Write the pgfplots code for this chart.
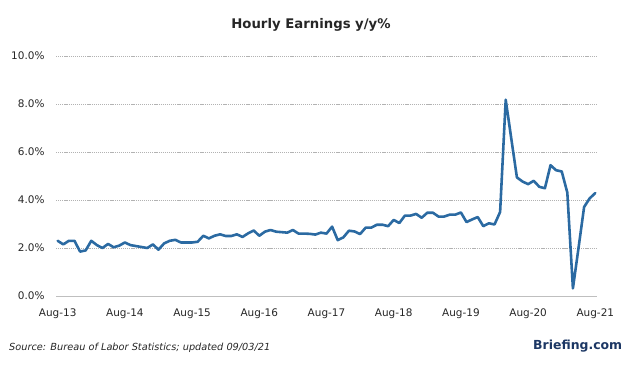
\documentclass[border=0pt]{standalone}
\usepackage{pgfplots}
\pgfplotsset{compat=1.18}
\usepackage{pgfplotstable}
\usepackage{fontspec}
\setmainfont{DejaVu Sans}
\definecolor{linecol}{RGB}{43,106,162}
\definecolor{brief}{RGB}{28,55,100}
\pgfplotstableread{
x y
0 2.30
1 2.15
2 2.30
3 2.30
4 1.85
5 1.90
6 2.30
7 2.12
8 2.00
9 2.17
10 2.03
11 2.10
12 2.23
13 2.12
14 2.08
15 2.04
16 2.00
17 2.15
18 1.93
19 2.19
20 2.30
21 2.34
22 2.23
23 2.23
24 2.23
25 2.26
26 2.51
27 2.40
28 2.51
29 2.57
30 2.50
31 2.50
32 2.57
33 2.46
34 2.61
35 2.73
36 2.51
37 2.68
38 2.75
39 2.68
40 2.66
41 2.64
42 2.75
43 2.60
44 2.60
45 2.59
46 2.56
47 2.64
48 2.60
49 2.89
50 2.33
51 2.44
52 2.72
53 2.69
54 2.58
55 2.85
56 2.85
57 2.97
58 2.97
59 2.91
60 3.17
61 3.04
62 3.35
63 3.35
64 3.42
65 3.26
66 3.47
67 3.47
68 3.31
69 3.31
70 3.39
71 3.39
72 3.48
73 3.08
74 3.19
75 3.29
76 2.91
77 3.03
78 2.98
79 3.50
80 8.18
81 6.55
82 4.94
83 4.77
84 4.66
85 4.80
86 4.55
87 4.49
88 5.45
89 5.24
90 5.19
91 4.31
92 0.32
93 2.00
94 3.71
95 4.07
96 4.29
}\datatable
\begin{document}
\begin{tikzpicture}
\begin{axis}[
  scale only axis,
  width=541bp, height=240bp,
  xmin=-0.3, xmax=96.3,
  ymin=0, ymax=10,
  axis x line*=bottom,
  axis y line*=left,
  x axis line style={draw=black!25, line width=1pt, -},
  y axis line style={draw=none, -},
  major tick length=0pt,
  tick style={draw=none},
  xtick={0,12,24,36,48,60,72,84,96},
  xticklabels={Aug-13,Aug-14,Aug-15,Aug-16,Aug-17,Aug-18,Aug-19,Aug-20,Aug-21},
  ytick={0,2,4,6,8,10},
  yticklabels={0.0\%,2.0\%,4.0\%,6.0\%,8.0\%,10.0\%},
  ymajorgrids,
  major grid style={draw=black!30, line width=0.6pt, dash pattern=on 1.2pt off 0.9pt},
  tick label style={font=\fontsize{10.5}{12}\selectfont, text=black!85},
  xticklabel style={anchor=base, yshift=-20bp},
  yticklabel style={anchor=east, xshift=-8bp},
  clip=false,
]
\addplot[color=linecol, line width=2.6pt, line join=round, line cap=round] table[x=x,y=y]{\datatable};
\end{axis}
\node[anchor=base, font=\bfseries\fontsize{13.3}{15}\selectfont, text=black!85] at (255bp,267bp) {Hourly Earnings y/y\%};
\node[anchor=base west, inner sep=0pt, font=\itshape\fontsize{9.8}{11}\selectfont, text=black!85] at (-47bp,-54bp) {Source: Bureau of Labor Statistics; updated 09/03/21};
\node[anchor=base west, inner sep=0pt, font=\bfseries\fontsize{12.5}{14}\selectfont, text=brief] at (477bp,-53bp) {Briefing.com};
\pgfresetboundingbox
\path[use as bounding box] (-56bp,-69bp) rectangle (568bp,296bp);
\end{tikzpicture}
\end{document}
